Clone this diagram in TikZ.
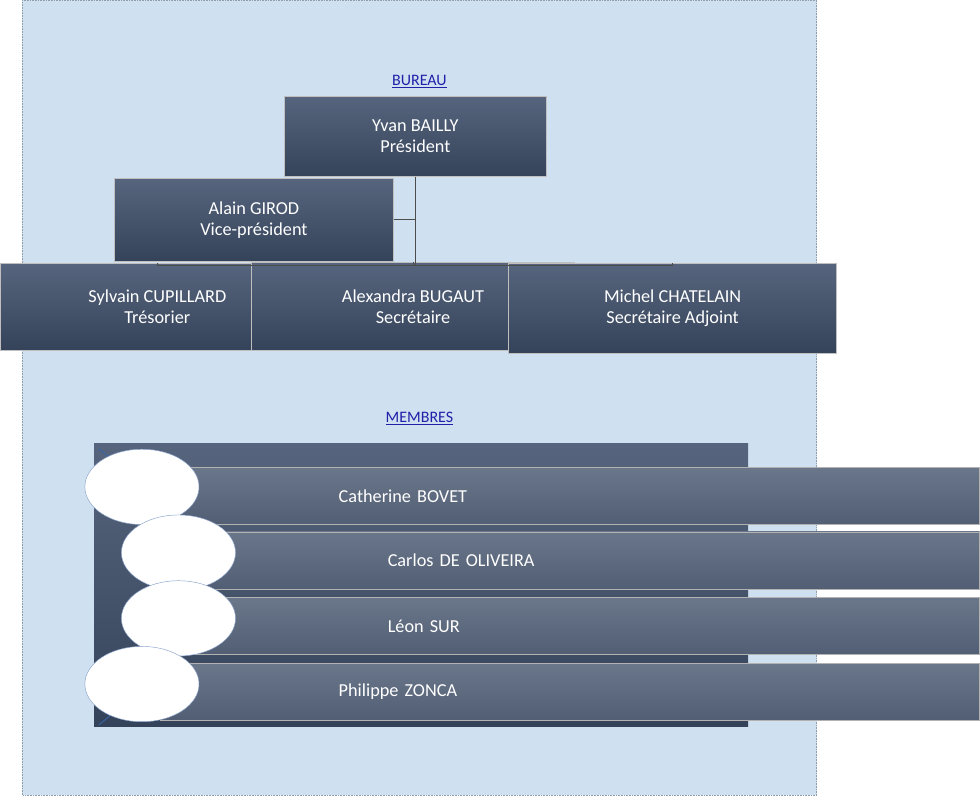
\documentclass[tikz,border=0pt]{standalone}
\usepackage{fontspec}
\setmainfont{Carlito}
\usetikzlibrary{positioning,shadings,shapes.geometric}
\definecolor{bgblue}{HTML}{CFE0F1}
\definecolor{boxtop}{HTML}{56657D}
\definecolor{boxbot}{HTML}{35435A}
\definecolor{bartop}{HTML}{6A768A}
\definecolor{barbot}{HTML}{525E73}
\definecolor{titleblue}{HTML}{2020A8}
\definecolor{arcblue}{HTML}{3A64A8}
\newcommand*{\ind}[1]{\hspace*{#1}}

\begin{document}
\begin{tikzpicture}[x=0.025cm,y=-0.025cm,
    block_role/.style ={rectangle, draw=white!75!black, thick, top color=boxtop, bottom color=boxbot,
      text=white, font=\fontsize{16}{18}\selectfont, align=center, inner sep=0pt},
    block_member/.style ={rectangle, draw=white!70!black, thick, top color=bartop, bottom color=barbot,
      text=white, font=\fontsize{16}{18}\selectfont, anchor=north west, minimum width=718, minimum height=50,
      text width=16cm, align=left},
    block_disc/.style ={ellipse, draw=arcblue!60, fill=white, minimum width=100, minimum height=66},
    block_title/.style ={font=\fontsize{14}{16}\selectfont, text=titleblue},
    line/.style ={draw=black!70, thick}]
    % background
    \fill[bgblue] (0,0) rectangle (980,980);
    \draw[bgblue!70!black, densely dotted] (0.5,0.5) rectangle (979.5,979.5);
    % bureau
    \node [block_title] (bureau) at (490,101) {\underline{BUREAU}};
    \node [block_role, minimum width=230, minimum height=70] (president) at (485,168) {Yvan BAILLY\\ Président};
    \node [block_role, minimum width=244, minimum height=72] (vice) at (286,271) {Alain GIROD\\ Vice-président};
    \node [block_role, minimum width=275, minimum height=76] (tresorier) at (167,378) {Sylvain CUPILLARD\\ Trésorier};
    \node [block_role, minimum width=283, minimum height=77] (secretaire) at (482,378) {Alexandra BUGAUT\\ Secrétaire};
    \node [block_role, minimum width=287, minimum height=79] (adjoint) at (802,380) {Michel CHATELAIN\\ Secrétaire Adjoint};
    \coordinate (split) at (485,327);
    % connecting nodes with paths
    \begin{scope}[every path/.style=line]
      \path (president.south) -- (split);
      \path (vice.east) -- (vice.east -| split);
      \path (tresorier.north |- split) -- (adjoint.north |- split);
      \path (tresorier.north |- split) -- (tresorier.north);
      \path (secretaire.north |- split) -- (secretaire.north);
      \path (adjoint.north |- split) -- (adjoint.north);
    \end{scope}
    % membres
    \node [block_title] (membres) at (490,516) {\underline{MEMBRES}};
    \shade[top color=boxtop, bottom color=boxbot] (89,547) rectangle (895,895);
    \begin{scope}
      \clip (89,547) rectangle (895,895);
      \draw[arcblue, thick] (95,553) .. controls (230,660) and (230,790) .. (95,893);
    \end{scope}
    \node [block_member] (m1) at (170,576) {\ind{25pt}Catherine BOVET};
    \node [block_member] (m2) at (170,655) {\ind{68pt}Carlos DE OLIVEIRA};
    \node [block_member] (m3) at (170,736) {\ind{68pt}Léon SUR};
    \node [block_member] (m4) at (170,817) {\ind{25pt}Philippe ZONCA};
    \node [block_disc] (d1) at (148,600) {};
    \node [block_disc] (d2) at (193,681) {};
    \node [block_disc] (d3) at (193,762) {};
    \node [block_disc] (d4) at (148,843) {};
\end{tikzpicture}
\end{document}
